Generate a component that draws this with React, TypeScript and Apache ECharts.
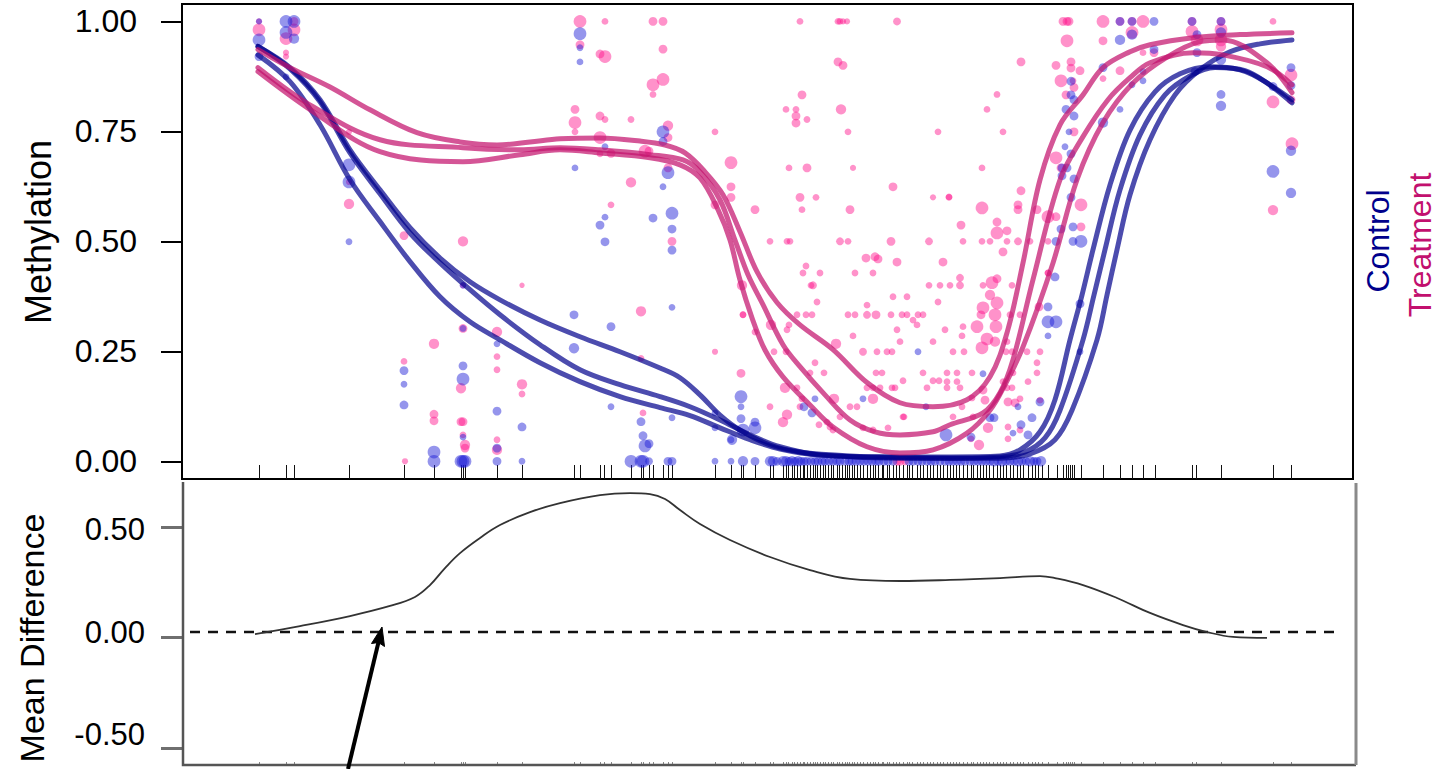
import { useEffect, useRef } from "react";
import * as echarts from "echarts";

// Genomic region shown (relative positions)
const REGION_START = 182;
const REGION_END = 1353;

// Methylation axis
const METH_MIN = -0.0403;
const METH_MAX = 1.0396;
const METH_TICKS = [0, 0.25, 0.5, 0.75, 1];

// Mean-difference axis (labels) and its tick frame
const DIFF_MIN = -0.649;
const DIFF_MAX = 0.732;
const DIFF_TICK_MIN = -0.5776;
const DIFF_TICK_MAX = 0.7065;
const DIFF_TICKS = [-0.5, 0, 0.5];

// CpG sites in the region (rug)
const CPG_SITES = [
  259, 286, 294, 349, 404, 434, 461, 463, 465, 497, 522, 574, 580, 600, 604, 611, 631, 641, 643, 649, 653, 663,
  668, 672, 715, 731, 741, 743, 755, 770, 773, 783, 786, 788, 792, 794, 797, 800, 803, 804, 807, 810, 813, 815,
  817, 820, 823, 825, 828, 831, 833, 837, 839, 842, 845, 847, 849, 852, 854, 857, 860, 863, 867, 870, 873, 875,
  878, 882, 883, 887, 889, 893, 896, 899, 903, 907, 909, 912, 917, 920, 923, 927, 930, 933, 937, 940, 943, 947,
  950, 953, 956, 959, 963, 967, 971, 973, 977, 980, 983, 986, 989, 993, 997, 1000, 1003, 1006, 1010, 1013, 1017,
  1020, 1023, 1028, 1032, 1035, 1038, 1042, 1048, 1057, 1063, 1066, 1068, 1070, 1072, 1074, 1081, 1103, 1120,
  1132, 1143, 1155, 1192, 1196, 1221, 1273, 1291,
];

// Treatment samples: [position, methylation, coverage]
const TREATMENT_POINTS = [
  [259, 1.0, 3], [259, 0.981, 20], [286, 0.961, 20], [286, 0.929, 3], [286, 0.92, 3], [294, 1.0, 8], [294, 0.981, 20],
  [349, 0.749, 3], [349, 0.635, 3], [349, 0.585, 12],
  [404, 0.513, 8], [404, 0.227, 4], [405, 0.0, 3],
  [434, 0.267, 12], [434, 0.107, 8], [434, 0.092, 8],
  [463, 0.5, 12], [463, 0.4, 3], [463, 0.302, 8], [461, 0.166, 12], [461, 0.09, 8], [463, 0.09, 8], [463, 0.06, 4],
  [465, 0.037, 12], [465, 0.03, 8],
  [497, 0.294, 12], [497, 0.238, 4], [497, 0.208, 4], [497, 0.049, 4], [497, 0.026, 12],
  [522, 0.4, 2], [522, 0.175, 12], [522, 0.153, 4],
  [580, 1.0, 20], [580, 0.947, 8], [575, 0.8, 8], [575, 0.77, 20], [575, 0.749, 4],
  [605, 1.0, 4], [600, 0.926, 8], [605, 0.92, 20], [600, 0.785, 8], [605, 0.777, 4], [600, 0.736, 20], [611, 0.7, 8],
  [600, 0.699, 4], [611, 0.583, 4],
  [631, 0.777, 4], [631, 0.634, 12], [641, 0.341, 12], [641, 0.234, 4], [643, 0.11, 4],
  [653, 1.0, 8], [663, 1.0, 8], [663, 0.937, 8], [663, 0.868, 20], [653, 0.856, 20], [653, 0.834, 4], [668, 0.763, 12],
  [668, 0.736, 8], [645, 0.705, 20], [649, 0.705, 8], [668, 0.667, 8], [672, 0.5, 8],
  [715, 0.749, 4], [715, 0.583, 8], [715, 0.249, 3], [731, 0.679, 20], [731, 0.624, 8], [731, 0.6, 8], [742, 0.4, 12],
  [741, 0.2, 8], [743, 0.333, 4],
  [755, 0.572, 8], [755, 0.294, 4], [770, 0.5, 4], [771, 0.31, 12], [774, 0.249, 4], [770, 0.124, 4],
  [786, 0.8, 4], [787, 0.5, 4], [789, 0.667, 4], [790, 0.5, 4], [796, 0.8, 4], [796, 0.785, 8], [796, 0.769, 8],
  [800, 1.0, 4], [800, 0.6, 8], [802, 0.833, 8], [802, 0.572, 4], [807, 0.777, 4], [807, 0.667, 8], [816, 0.6, 4],
  [803, 0.428, 4], [806, 0.444, 4], [820, 0.428, 4], [813, 0.4, 6], [811, 0.4, 4],
  [838, 1.0, 4], [840, 1.0, 4], [843, 1.0, 3], [847, 1.0, 3], [838, 0.908, 8], [843, 0.9, 8], [841, 0.8, 12],
  [848, 0.749, 4], [853, 0.667, 3], [850, 0.572, 8], [840, 0.5, 6], [848, 0.5, 4], [855, 0.428, 4], [866, 0.462, 8],
  [875, 0.465, 8], [878, 0.46, 8], [873, 0.428, 4],
  [897, 1.0, 6], [893, 0.624, 8], [891, 0.5, 8], [897, 0.453, 8], [893, 0.374, 4], [907, 0.374, 4], [929, 0.5, 6],
  [933, 0.6, 3], [938, 0.749, 4], [929, 0.4, 4], [940, 0.4, 4], [943, 0.453, 8], [949, 0.6, 4], [950, 0.4, 4],
  [743, 0.333, 4], [797, 0.333, 4], [806, 0.333, 4], [812, 0.333, 4], [848, 0.333, 4], [855, 0.333, 4], [867, 0.333, 6],
  [876, 0.333, 8], [891, 0.333, 4], [902, 0.333, 4], [907, 0.333, 4], [918, 0.333, 4], [923, 0.333, 4],
  [817, 0.362, 4], [867, 0.355, 4], [938, 0.362, 4],
  [789, 0.31, 4], [787, 0.299, 4], [913, 0.321, 4], [917, 0.31, 4],
  [853, 0.285, 4], [897, 0.299, 4], [836, 0.267, 12], [900, 0.272, 4], [933, 0.272, 4],
  [786, 0.249, 4], [863, 0.249, 6], [877, 0.249, 4], [887, 0.249, 4], [892, 0.249, 4],
  [815, 0.224, 4], [810, 0.201, 4], [824, 0.201, 4], [876, 0.201, 4], [882, 0.201, 4], [903, 0.183, 4], [923, 0.201, 4],
  [933, 0.183, 4], [939, 0.183, 4],
  [785, 0.167, 12], [797, 0.167, 4], [867, 0.167, 4], [873, 0.167, 4], [880, 0.167, 4], [892, 0.167, 4], [895, 0.167, 4],
  [927, 0.167, 4],
  [787, 0.106, 12], [800, 0.124, 4], [802, 0.142, 4], [834, 0.142, 12], [857, 0.124, 4], [873, 0.142, 12], [850, 0.124, 4],
  [904, 0.101, 4],
  [783, 0.089, 12], [819, 0.083, 4], [827, 0.089, 4], [830, 0.078, 4], [833, 0.071, 4], [840, 0.101, 4], [863, 0.076, 4],
  [873, 0.071, 4], [888, 0.076, 4], [903, 0.101, 4],
  [960, 0.4, 6], [960, 0.417, 6], [961, 0.537, 8], [963, 0.5, 4], [982, 0.667, 4], [982, 0.576, 20], [982, 0.5, 4],
  [987, 0.8, 4], [997, 0.834, 4], [1003, 0.749, 4], [990, 0.5, 4], [992, 0.406, 20], [997, 0.415, 8], [997, 0.544, 8],
  [997, 0.519, 20], [1007, 0.524, 8], [1007, 0.5, 4], [1003, 0.476, 8], [1018, 0.583, 8], [1018, 0.572, 8],
  [1021, 0.615, 8], [1018, 0.5, 6], [1030, 0.5, 4], [1037, 0.572, 8], [1048, 0.556, 20], [1056, 0.556, 8],
  [1048, 0.5, 4], [1048, 0.428, 4], [1021, 0.908, 8], [1056, 0.9, 8], [949, 0.601, 4],
  [983, 0.4, 4], [1012, 0.4, 4], [990, 0.378, 12], [997, 0.36, 20], [983, 0.349, 20], [981, 0.333, 8], [995, 0.333, 20],
  [1010, 0.333, 4], [1020, 0.333, 4], [1039, 0.351, 8], [996, 0.306, 20], [977, 0.306, 20], [963, 0.306, 4],
  [945, 0.299, 4], [962, 0.285, 4], [987, 0.278, 20], [1007, 0.272, 4], [995, 0.272, 12], [953, 0.249, 4],
  [964, 0.249, 4], [982, 0.258, 20], [1006, 0.249, 4], [1012, 0.249, 4], [1027, 0.249, 4], [1040, 0.249, 4],
  [1037, 0.224, 4], [947, 0.201, 4], [957, 0.201, 4], [972, 0.201, 4], [1013, 0.201, 4], [1037, 0.201, 4],
  [947, 0.181, 4], [957, 0.181, 4], [1003, 0.181, 4], [1028, 0.181, 4], [947, 0.167, 4], [960, 0.167, 4],
  [983, 0.162, 8], [1007, 0.167, 4], [1012, 0.167, 4], [972, 0.144, 4], [985, 0.139, 8], [1008, 0.135, 8],
  [1015, 0.133, 8], [1020, 0.142, 4], [1040, 0.139, 4], [962, 0.124, 4], [953, 0.101, 4], [973, 0.101, 4],
  [988, 0.076, 12], [1008, 0.078, 4], [1020, 0.071, 4], [971, 0.051, 4], [979, 0.037, 12], [1008, 0.051, 4],
  [897, 0.0, 8], [900, 0.0, 8], [905, 0.0, 6],
  [1063, 1.0, 8], [1067, 1.0, 8], [1069, 1.0, 8], [1067, 0.956, 20], [1071, 0.908, 8], [1071, 0.894, 8], [1080, 0.888, 8],
  [1061, 0.865, 20], [1073, 0.865, 4], [1066, 0.833, 8], [1074, 0.85, 8], [1074, 0.749, 8], [1056, 0.69, 20],
  [1061, 0.667, 8], [1081, 0.583, 20], [1081, 0.533, 8], [1048, 0.428, 4],
  [1103, 1.0, 20], [1103, 0.956, 8], [1103, 0.87, 4], [1120, 1.0, 8], [1120, 0.888, 8], [1132, 1.0, 8], [1132, 0.975, 20],
  [1143, 1.0, 20], [1143, 0.929, 4], [1154, 0.929, 8], [1192, 1.0, 8], [1192, 0.977, 20], [1197, 0.958, 20],
  [1221, 1.0, 8], [1221, 0.981, 20], [1221, 0.958, 20], [1221, 0.943, 12], [1273, 1.0, 4], [1273, 0.817, 20],
  [1273, 0.571, 12], [1291, 0.878, 20], [1291, 0.822, 8], [1292, 0.722, 20],
];

// Control samples: [position, methylation, coverage]
const CONTROL_POINTS = [
  [259, 1.0, 3], [259, 0.958, 20], [259, 0.92, 8], [286, 1.0, 20], [286, 0.975, 20], [286, 0.874, 4], [294, 1.0, 20],
  [294, 0.961, 12],
  [349, 0.674, 20], [349, 0.635, 20], [349, 0.499, 4],
  [404, 0.206, 8], [404, 0.175, 4], [404, 0.128, 8],
  [434, 0.021, 20],
  [463, 0.4, 4], [463, 0.302, 4], [463, 0.217, 8], [463, 0.187, 20], [463, 0.055, 4],
  [497, 0.267, 4], [497, 0.114, 8], [497, 0.03, 8],
  [522, 0.078, 8],
  [574, 0.333, 8], [574, 0.257, 12],
  [580, 0.972, 20], [580, 0.94, 4], [580, 0.908, 4], [575, 0.667, 4],
  [605, 0.715, 4], [605, 0.555, 4], [600, 0.537, 8], [605, 0.499, 8], [611, 0.306, 8], [611, 0.124, 4],
  [641, 0.09, 8], [643, 0.058, 8], [645, 0.035, 20], [649, 0.04, 8],
  [663, 0.749, 20], [663, 0.727, 8], [668, 0.656, 20], [663, 0.624, 4], [672, 0.564, 20], [653, 0.553, 8],
  [672, 0.528, 8], [672, 0.48, 8], [672, 0.35, 4], [672, 0.099, 4],
  [715, 0.11, 4], [715, 0.076, 4], [731, 0.049, 4], [741, 0.147, 20], [741, 0.124, 4], [741, 0.097, 8],
  [743, 0.071, 20], [732, 0.049, 12],
  [755, 0.089, 8], [755, 0.076, 20], [804, 0.124, 8], [812, 0.11, 8], [815, 0.142, 4], [863, 0.142, 4],
  [918, 0.249, 4], [926, 0.124, 4], [946, 0.06, 20], [971, 0.055, 8], [983, 0.199, 4], [990, 0.099, 8],
  [994, 0.099, 8], [1013, 0.064, 4], [1018, 0.124, 4], [1021, 0.083, 8], [1032, 0.099, 8], [1028, 0.06, 8],
  [1040, 0.135, 8],
  [1048, 0.351, 8], [1048, 0.317, 20], [1056, 0.317, 20], [1048, 0.285, 4], [1080, 0.358, 8], [1080, 0.249, 4],
  [1055, 0.419, 8], [1073, 0.533, 8], [1073, 0.5, 8], [1081, 0.5, 20], [1061, 0.528, 8], [1056, 0.5, 8],
  [1071, 0.864, 8], [1071, 0.833, 8], [1074, 0.822, 8], [1066, 0.8, 8], [1074, 0.785, 8], [1069, 0.749, 4],
  [1065, 0.715, 4], [1071, 0.699, 8], [1062, 0.667, 8], [1067, 0.667, 8], [1062, 0.649, 8], [1074, 0.642, 8],
  [1071, 0.6, 8],
  [1103, 0.895, 8], [1103, 0.77, 12], [1120, 1.0, 8], [1120, 0.958, 12], [1120, 0.8, 4], [1132, 1.0, 8],
  [1132, 0.97, 12], [1132, 0.856, 4], [1143, 0.886, 4], [1143, 0.865, 4], [1154, 1.0, 8], [1154, 0.936, 8],
  [1192, 1.0, 8], [1197, 0.97, 8], [1197, 0.929, 8], [1195, 0.886, 8], [1221, 1.0, 8], [1221, 0.975, 12],
  [1221, 0.913, 12], [1221, 0.834, 8], [1221, 0.808, 12], [1273, 0.852, 8], [1273, 0.659, 20], [1291, 0.895, 8],
  [1291, 0.854, 8], [1291, 0.706, 12], [1291, 0.61, 12],
];

// Control sites that are fully unmethylated: [position, coverage]
const CONTROL_UNMETHYLATED = [
  [434, 20], [461, 20], [463, 20], [465, 20], [497, 8], [522, 4], [631, 20], [641, 20], [643, 20], [649, 6],
  [668, 8], [672, 8], [715, 4], [731, 4], [743, 12], [755, 8], [770, 12], [773, 12], [777, 8], [783, 12], [786, 12],
  [789, 8], [792, 12], [795, 8], [798, 12], [801, 8], [804, 8], [807, 8], [811, 8], [815, 8], [818, 8], [822, 8],
  [825, 8], [829, 8], [833, 8], [837, 8], [840, 8], [845, 8], [849, 8], [852, 8], [856, 8], [860, 8], [864, 8],
  [868, 8], [872, 8], [876, 8], [879, 8], [884, 8], [888, 8], [893, 8], [909, 8], [913, 8], [918, 8], [922, 8],
  [927, 8], [931, 8], [935, 8], [940, 8], [945, 8], [949, 8], [953, 8], [957, 8], [961, 8], [965, 8], [970, 8],
  [974, 8], [978, 8], [982, 8], [986, 8], [990, 8], [994, 12], [998, 8], [1002, 12], [1006, 8], [1010, 8],
  [1014, 8], [1018, 12], [1022, 8], [1026, 8], [1030, 12], [1034, 8], [1037, 8], [1041, 12],
];

// Smoothed methylation per sample: [position, methylation]
const CONTROL_FIT_1 = [
  [258, 0.943], [290, 0.895], [320, 0.822], [350, 0.708], [380, 0.617], [410, 0.531], [440, 0.462], [470, 0.408],
  [500, 0.367], [540, 0.321], [580, 0.283], [620, 0.249], [660, 0.212], [680, 0.19], [700, 0.151], [720, 0.105],
  [740, 0.071], [770, 0.037], [800, 0.021], [850, 0.012], [900, 0.01], [950, 0.01], [1000, 0.012], [1020, 0.026],
  [1040, 0.067], [1055, 0.14], [1070, 0.276], [1082, 0.378], [1093, 0.481], [1110, 0.628], [1130, 0.753],
  [1155, 0.84], [1180, 0.881], [1210, 0.897], [1240, 0.89], [1265, 0.863], [1292, 0.815],
];
const CONTROL_FIT_2 = [
  [258, 0.943], [290, 0.892], [320, 0.817], [350, 0.701], [380, 0.608], [410, 0.519], [440, 0.451], [470, 0.39],
  [500, 0.333], [540, 0.265], [580, 0.208], [620, 0.174], [660, 0.147], [690, 0.124], [720, 0.094], [750, 0.06],
  [780, 0.033], [820, 0.014], [870, 0.01], [950, 0.007], [1000, 0.01], [1025, 0.021], [1045, 0.053], [1060, 0.116],
  [1083, 0.276], [1094, 0.378], [1105, 0.481], [1120, 0.617], [1140, 0.742], [1165, 0.833], [1190, 0.876],
  [1215, 0.895], [1245, 0.888], [1270, 0.856], [1292, 0.822],
];
const CONTROL_FIT_3 = [
  [258, 0.924], [290, 0.863], [320, 0.765], [350, 0.64], [380, 0.545], [410, 0.454], [440, 0.374], [470, 0.317],
  [500, 0.276], [540, 0.224], [580, 0.181], [620, 0.147], [660, 0.122], [690, 0.104], [720, 0.076], [750, 0.049],
  [780, 0.028], [820, 0.014], [900, 0.007], [1000, 0.007], [1030, 0.017], [1055, 0.049], [1072, 0.116],
  [1097, 0.276], [1107, 0.378], [1117, 0.481], [1130, 0.606], [1150, 0.731], [1175, 0.833], [1200, 0.89],
  [1230, 0.931], [1260, 0.949], [1292, 0.958],
];
const TREATMENT_FIT_1 = [
  [258, 0.936], [290, 0.895], [330, 0.851], [370, 0.799], [417, 0.747], [460, 0.726], [497, 0.719], [530, 0.726],
  [560, 0.733], [600, 0.735], [640, 0.728], [665, 0.719], [685, 0.701], [705, 0.658], [723, 0.606], [740, 0.522],
  [757, 0.431], [777, 0.361], [800, 0.31], [833, 0.254], [867, 0.179], [900, 0.133], [933, 0.124], [967, 0.14],
  [990, 0.192], [1007, 0.292], [1023, 0.451], [1040, 0.64], [1060, 0.765], [1083, 0.833], [1103, 0.895],
  [1130, 0.931], [1150, 0.947], [1193, 0.963], [1240, 0.97], [1292, 0.974],
];
const TREATMENT_FIT_2 = [
  [258, 0.895], [313, 0.806], [380, 0.731], [463, 0.713], [520, 0.708], [560, 0.713], [600, 0.708], [650, 0.697],
  [683, 0.685], [700, 0.658], [720, 0.594], [735, 0.503], [748, 0.424], [763, 0.356], [783, 0.265], [800, 0.215],
  [825, 0.151], [850, 0.094], [875, 0.067], [900, 0.06], [933, 0.067], [950, 0.083], [983, 0.11], [1000, 0.156],
  [1013, 0.231], [1033, 0.413], [1060, 0.64], [1083, 0.738], [1108, 0.822], [1130, 0.872], [1150, 0.906],
  [1193, 0.929], [1223, 0.924], [1267, 0.897], [1292, 0.856],
];
const TREATMENT_FIT_3 = [
  [258, 0.886], [313, 0.795], [380, 0.704], [463, 0.681], [520, 0.697], [560, 0.708], [600, 0.701], [650, 0.69],
  [680, 0.674], [700, 0.644], [718, 0.572], [730, 0.503], [740, 0.412], [752, 0.326], [765, 0.253], [783, 0.192],
  [810, 0.128], [833, 0.078], [867, 0.033], [900, 0.019], [933, 0.026], [967, 0.064], [990, 0.116], [1005, 0.174],
  [1023, 0.26], [1053, 0.451], [1077, 0.64], [1103, 0.77], [1133, 0.86], [1167, 0.919], [1200, 0.954],
  [1223, 0.958], [1267, 0.906], [1292, 0.838],
];

// Mean methylation difference (treatment - control): [position, difference]
const MEAN_DIFFERENCE = [
  [255, -0.01], [300, 0.029], [350, 0.078], [390, 0.127], [415, 0.171], [430, 0.229], [445, 0.312], [460, 0.385],
  [480, 0.459], [500, 0.522], [530, 0.585], [560, 0.629], [600, 0.668], [630, 0.678], [650, 0.673], [665, 0.649],
  [680, 0.595], [700, 0.527], [730, 0.449], [770, 0.366], [810, 0.302], [850, 0.259], [900, 0.249], [950, 0.254],
  [1000, 0.263], [1040, 0.273], [1055, 0.263], [1083, 0.229], [1117, 0.166], [1150, 0.093], [1183, 0.034],
  [1207, 0.0], [1233, -0.024], [1267, -0.029],
];
const ZERO_REFERENCE = [[190, 0], [1340, 0]];

const FONT = "'Liberation Sans', Arial, Helvetica, sans-serif";
const CONTROL_POINT_COLOR = "rgba(25, 25, 215, 0.58)";
const TREATMENT_POINT_COLOR = "rgba(255, 20, 140, 0.58)";
const CONTROL_LINE_COLOR = "rgba(0, 0, 139, 0.7)";
const TREATMENT_LINE_COLOR = "rgba(196, 20, 110, 0.72)";

const sizeForCoverage = (cov: number) => 2 + 2.4 * Math.sqrt(cov);
const fmt2 = (v: number) => v.toFixed(2);

function fitSeries(data: number[][], color: string) {
  return {
    type: "line",
    xAxisIndex: 0,
    yAxisIndex: 0,
    data,
    smooth: 0.35,
    showSymbol: false,
    silent: true,
    lineStyle: { color, width: 5, cap: "round", join: "round" },
    z: 4,
  };
}

function rugSeries(axisIndex: number, length: number, color: string, width: number) {
  const yMin = axisIndex === 0 ? METH_MIN : DIFF_MIN;
  return {
    type: "custom",
    xAxisIndex: axisIndex,
    yAxisIndex: axisIndex,
    silent: true,
    data: CPG_SITES.map((s) => [s, yMin]),
    encode: { x: 0, y: 1 },
    renderItem: (_params: any, api: any) => {
      const p = api.coord([api.value(0), yMin]);
      // snap to the pixel grid so the thin rug strokes stay crisp
      const x = Math.round(p[0]) + 0.5;
      return {
        type: "line",
        shape: { x1: x, y1: p[1], x2: x, y2: p[1] - length },
        style: { stroke: color, lineWidth: width },
      };
    },
    z: 1,
  };
}

export default function App() {
  const ref = useRef<HTMLDivElement>(null);

  useEffect(() => {
    if (!ref.current) return;
    const chart = echarts.init(ref.current, undefined, { renderer: "svg" });

    const controlAll = [
      ...CONTROL_POINTS,
      ...CONTROL_UNMETHYLATED.map(([pos, cov]) => [pos, 0, cov]),
    ];

    const option: any = {
      animation: false,
      backgroundColor: "#ffffff",
      textStyle: { fontFamily: FONT },
      grid: [
        {
          left: 182, top: 4, width: 1171, height: 475,
          show: true, borderColor: "#000", borderWidth: 2, backgroundColor: "transparent",
        },
        { left: 182, top: 482, width: 1171, height: 283, show: false },
      ],
      xAxis: [
        { type: "value", gridIndex: 0, min: REGION_START, max: REGION_END, show: false },
        { type: "value", gridIndex: 1, min: REGION_START, max: REGION_END, show: false },
      ],
      yAxis: [
        {
          type: "value", gridIndex: 0, position: "left", offset: 0, min: METH_MIN, max: METH_MAX,
          axisLine: { show: false }, splitLine: { show: false },
          axisTick: { show: true, length: 21, customValues: METH_TICKS, lineStyle: { color: "#000", width: 2 } },
          axisLabel: {
            show: true, customValues: METH_TICKS, formatter: fmt2,
            fontSize: 32, color: "#000", margin: 45, fontFamily: FONT,
          },
        },
        {
          type: "value", gridIndex: 1, position: "left", offset: 0, min: DIFF_MIN, max: DIFF_MAX,
          axisLine: { show: false }, splitLine: { show: false }, axisTick: { show: false },
          axisLabel: {
            show: true, customValues: DIFF_TICKS, formatter: fmt2,
            fontSize: 31, color: "#000", margin: 37, fontFamily: FONT,
          },
        },
        {
          type: "value", gridIndex: 1, position: "left", offset: 0, min: DIFF_TICK_MIN, max: DIFF_TICK_MAX,
          axisLine: { show: false }, splitLine: { show: false }, axisLabel: { show: false },
          axisTick: { show: true, length: 21, customValues: DIFF_TICKS, lineStyle: { color: "#6f6f6f", width: 3 } },
        },
      ],
      series: [
        rugSeries(0, 14, "#111", 1),
        rugSeries(1, 3, "#888", 1),
        {
          type: "scatter",
          name: "Treatment",
          xAxisIndex: 0, yAxisIndex: 0,
          data: TREATMENT_POINTS,
          symbolSize: (d: number[]) => sizeForCoverage(d[2]),
          itemStyle: { color: TREATMENT_POINT_COLOR, borderWidth: 0 },
          silent: true,
          z: 2,
        },
        {
          type: "scatter",
          name: "Control",
          xAxisIndex: 0, yAxisIndex: 0,
          data: controlAll,
          symbolSize: (d: number[]) => sizeForCoverage(d[2]),
          itemStyle: { color: CONTROL_POINT_COLOR, borderWidth: 0 },
          silent: true,
          z: 2,
        },
        fitSeries(CONTROL_FIT_1, CONTROL_LINE_COLOR),
        fitSeries(CONTROL_FIT_2, CONTROL_LINE_COLOR),
        fitSeries(CONTROL_FIT_3, CONTROL_LINE_COLOR),
        fitSeries(TREATMENT_FIT_1, TREATMENT_LINE_COLOR),
        fitSeries(TREATMENT_FIT_2, TREATMENT_LINE_COLOR),
        fitSeries(TREATMENT_FIT_3, TREATMENT_LINE_COLOR),
        {
          type: "line",
          xAxisIndex: 1, yAxisIndex: 1,
          data: ZERO_REFERENCE,
          showSymbol: false, silent: true,
          lineStyle: { color: "#111", width: 2.5, type: [10, 8] },
          z: 3,
        },
        {
          type: "line",
          xAxisIndex: 1, yAxisIndex: 1,
          data: MEAN_DIFFERENCE,
          smooth: 0.4,
          showSymbol: false, silent: true,
          lineStyle: { color: "#333", width: 1.8 },
          z: 4,
        },
      ],
      graphic: [
        {
          type: "text", x: 38, y: 232, rotation: Math.PI / 2,
          style: { text: "Methylation", fontSize: 36, fontFamily: FONT, fill: "#000", align: "center", verticalAlign: "middle" },
        },
        {
          type: "text", x: 32, y: 638, rotation: Math.PI / 2,
          style: { text: "Mean Difference", fontSize: 34, fontFamily: FONT, fill: "#000", align: "center", verticalAlign: "middle" },
        },
        {
          type: "text", x: 1378, y: 241, rotation: Math.PI / 2,
          style: { text: "Control", fontSize: 32, fontFamily: FONT, fill: "#00008B", align: "center", verticalAlign: "middle" },
        },
        {
          type: "text", x: 1420, y: 245, rotation: Math.PI / 2,
          style: { text: "Treatment", fontSize: 32, fontFamily: FONT, fill: "#C2106E", align: "center", verticalAlign: "middle" },
        },
        {
          type: "polyline",
          shape: { points: [[183, 482], [183, 765], [1356, 765]] },
          style: { stroke: "#555", lineWidth: 2.5, fill: null },
          z: 10,
        },
        {
          type: "line",
          shape: { x1: 1356, y1: 483, x2: 1356, y2: 765 },
          style: { stroke: "#8a8a8a", lineWidth: 3 },
          z: 10,
        },
        {
          type: "line",
          shape: { x1: 348, y1: 769, x2: 379, y2: 640 },
          style: { stroke: "#000", lineWidth: 4 },
          z: 11,
        },
        {
          type: "polygon",
          shape: { points: [[382, 627], [384.5, 646.5], [378.5, 642.5], [371.5, 643.5]] },
          style: { fill: "#000", stroke: "#000", lineWidth: 1 },
          z: 11,
        },
      ],
    };

    chart.setOption(option);
    return () => chart.dispose();
  }, []);

  return (
    <div
      ref={ref}
      style={{ position: "absolute", left: 0, top: 0, width: 1441, height: 769, background: "#fff" }}
    />
  );
}
